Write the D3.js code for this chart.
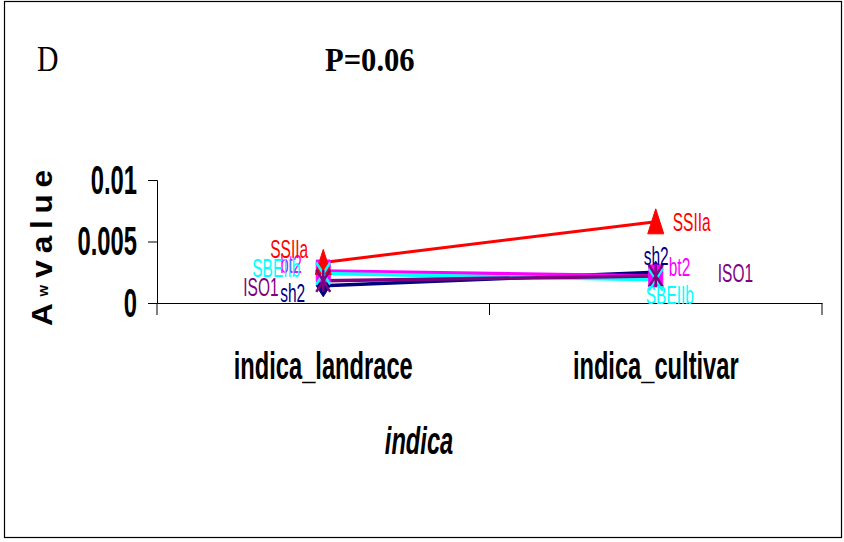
<!DOCTYPE html>
<html>
<head>
<meta charset="utf-8">
<script src="https://cdn.jsdelivr.net/npm/d3@7"></script>
<style>
  body { margin: 0; background: #fff; }
  svg { display: block; }
</style>
</head>
<body>
<svg id="chart"></svg>
<script>
// data
const categories = ['indica_landrace', 'indica_cultivar'];
const seriesNames = ['sh2', 'bt2', 'SSIIa', 'SBEIIb', 'ISO1'];
const sh2 = [0.0014, 0.0025];
const bt2 = [0.0026, 0.0022];
const SSIIa = [0.0033, 0.0066];
const SBEIIb = [0.0024, 0.0019];
const ISO1 = [0.0018, 0.0022];
const yTicks = [0, 0.005, 0.01];
const yTickLabels = ['0', '0.005', '0.01'];

const values = { sh2, bt2, SSIIa, SBEIIb, ISO1 };
const colors = { sh2: '#000080', bt2: '#ff00ff', SSIIa: '#ff0000', SBEIIb: '#00ffff', ISO1: '#800080' };
const markers = { sh2: 'diamond', bt2: 'square', SSIIa: 'triangle', SBEIIb: 'x', ISO1: 'star' };
// where the series-name labels were dragged to (pixels from the point, baseline)
const labelPos = {
  sh2:    [[-43, 16], [-12, -7]],
  bt2:    [[-43, 2],  [13, 0]],
  SSIIa:  [[-53, -4], [17, 9]],
  SBEIIb: [[-71, 4],  [-10, 24]],
  ISO1:   [[-80, 15], [62, 6]]
};

const W = 844, H = 542;
const svg = d3.select('#chart').attr('width', W).attr('height', H);

// frame
svg.append('rect')
  .attr('x', 4.5).attr('y', 1.5).attr('width', 837).attr('height', 536)
  .attr('fill', 'none').attr('stroke', '#000').attr('stroke-width', 1.2);

const x = d3.scaleBand().domain(categories).range([157, 822]).padding(0);
const y = d3.scaleLinear().domain([0, 0.01]).range([303, 180]);
const cx = c => x(c) + x.bandwidth() / 2;

// titles
svg.append('text')
  .attr('transform', 'translate(37,71) scale(0.85,1)')
  .style('font-family', '"Liberation Serif", "Times New Roman", serif')
  .style('font-size', '35px')
  .text('D');
svg.append('text')
  .attr('transform', 'translate(325,71) scale(0.9,1)')
  .style('font-family', '"Liberation Serif", "Times New Roman", serif')
  .style('font-size', '34px').style('font-weight', 'bold')
  .text('P=0.06');

// y axis
const yAxis = d3.axisLeft(y)
  .tickValues(yTicks)
  .tickFormat((d, i) => yTickLabels[i])
  .tickSizeOuter(0)
  .tickSize(9);
const gy = svg.append('g').attr('transform', 'translate(157,0)').call(yAxis);
gy.select('.domain').attr('stroke', '#000');
gy.selectAll('.tick line').attr('stroke', '#000');
gy.selectAll('.tick text')
  .attr('x', null).attr('dy', null)
  .attr('transform', 'translate(-20,13) scale(0.61,1.03)')
  .attr('text-anchor', 'end')
  .style('font-family', '"Liberation Sans", Arial, sans-serif')
  .style('font-size', '39px').style('font-weight', 'bold')
  .attr('fill', '#000');

// x axis: line + boundary ticks, labels centred in the bands
const xAxis = d3.axisBottom(x).tickSize(0).tickSizeOuter(0);
const gx = svg.append('g').attr('transform', 'translate(0,303)').call(xAxis);
gx.select('.domain').attr('stroke', '#000');
gx.selectAll('.tick text')
  .attr('y', null).attr('dy', null)
  .attr('transform', 'translate(0,76) scale(0.64,1.05)')
  .style('font-family', '"Liberation Sans", Arial, sans-serif')
  .style('font-size', '37px').style('font-weight', 'bold')
  .attr('fill', '#000');
const bounds = categories.map(c => x(c)).concat([x(categories[categories.length - 1]) + x.bandwidth()]);
gx.selectAll('.bound')
  .data(bounds)
  .join('line')
    .attr('class', 'bound')
    .attr('x1', d => d).attr('x2', d => d)
    .attr('y1', 0).attr('y2', 12)
    .attr('stroke', '#000');

// axis titles
svg.append('text')
  .attr('transform', 'translate(419,454) scale(0.64,1.05)')
  .attr('text-anchor', 'middle')
  .style('font-family', '"Liberation Sans", Arial, sans-serif')
  .style('font-size', '37px').style('font-weight', 'bold').style('font-style', 'italic')
  .text('indica');

const yt = svg.append('text')
  .attr('transform', 'translate(52,326) rotate(-90) scale(1.05,1)')
  .style('font-family', '"Liberation Sans", Arial, sans-serif')
  .style('font-size', '30px').style('font-weight', 'bold');
yt.append('tspan').attr('x', 0).text('A');
yt.append('tspan').attr('x', 28).attr('dy', -4).style('font-size', '14px').text('w');
yt.append('tspan').attr('x', 46).attr('dy', 4).style('letter-spacing', '6.5px').text('value');

// lines
const line = d3.line().x((d, i) => cx(categories[i])).y(d => y(d));
svg.append('g').selectAll('path')
  .data(seriesNames)
  .join('path')
    .attr('d', s => line(values[s]))
    .attr('fill', 'none')
    .attr('stroke', s => colors[s])
    .attr('stroke-width', s => s === 'SSIIa' ? 3 : 3.5);

// markers
function markerPath(type) {
  const w = 7, h = 11;
  switch (type) {
    case 'diamond': return `M0,${-h}L${w},0L0,${h}L${-w},0Z`;
    case 'square': return `M${-w},${-h}H${w}V${h}H${-w}Z`;
    case 'triangle': return `M0,-13L8,12L-8,12Z`;
    case 'x': return `M${-w},${-h}L${w},${h}M${-w},${h}L${w},${-h}`;
    case 'star': return `M${-w},${-h}L${w},${h}M${-w},${h}L${w},${-h}M0,${-h}V${h}`;
  }
}
const pts = seriesNames.flatMap(s => values[s].map((v, i) => ({ s, v, c: categories[i], i })));
svg.append('g').selectAll('path')
  .data(pts)
  .join('path')
    .attr('transform', d => `translate(${cx(d.c)},${y(d.v)})`)
    .attr('d', d => markerPath(markers[d.s]))
    .attr('fill', d => (markers[d.s] === 'x' || markers[d.s] === 'star') ? 'none' : colors[d.s])
    .attr('stroke', d => colors[d.s])
    .attr('stroke-width', d => (markers[d.s] === 'x' || markers[d.s] === 'star') ? 2.5 : 1);

// series-name labels
svg.append('g').selectAll('text')
  .data(pts)
  .join('text')
    .attr('transform', d => {
      const o = labelPos[d.s][d.i];
      return `translate(${cx(d.c) + o[0]},${y(d.v) + o[1]}) scale(0.62,1)`;
    })
    .style('font-family', '"Liberation Sans", Arial, sans-serif')
    .style('font-size', '25px')
    .attr('fill', d => colors[d.s])
    .text(d => d.s);
</script>
</body>
</html>
